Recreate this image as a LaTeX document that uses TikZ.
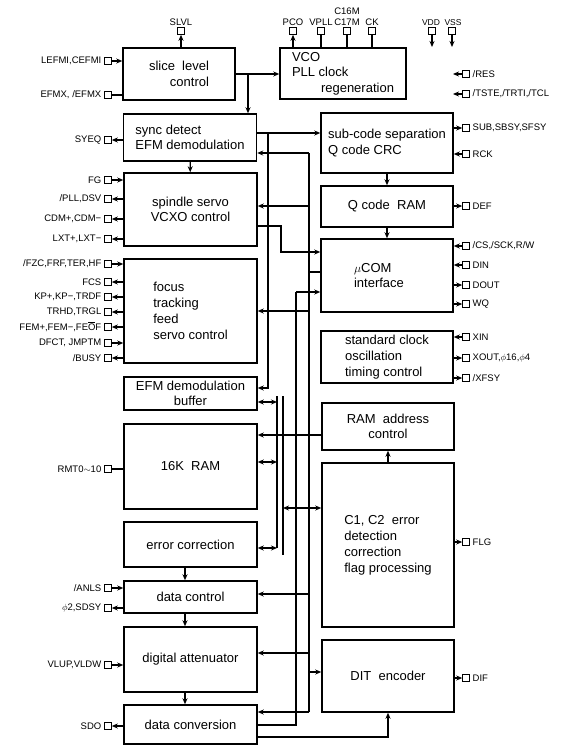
\documentclass[tikz,border=0pt]{standalone}
\usepackage{fontspec}
\setmainfont{Liberation Sans}
\usetikzlibrary{arrows.meta}
\begin{document}
\begin{tikzpicture}[x=1pt,y=-1pt,
  box/.style={draw, line width=1.5pt, inner sep=0pt, align=center, font=\fontsize{13}{15.5}\selectfont},
  pin/.style={draw, line width=1.1pt, minimum size=6.5pt, inner sep=0pt, fill=white},
  plab/.style={font=\fontsize{9.5}{10.5}\selectfont, inner sep=0pt},
  wire/.style={line width=1.2pt},
  >={Stealth[length=6pt,width=5pt]}
]
\useasboundingbox (0,0) rectangle (563,755);
\fill[white] (0,0) rectangle (563,755);

% ---------- macros for pins ----------
\newcommand\Lpin[3]{\node[pin] (#1) at (108,#2) {}; \node[plab, anchor=east] (#1-l) at (101.5,#2) {#3};}
\newcommand\Rpin[3]{\node[pin] (#1) at (466,#2) {}; \node[plab, anchor=west] (#1-l) at (472.5,#2) {#3};}
\newcommand\Tpin[3]{\node[pin] (#1) at (#2,31) {}; \node[plab, anchor=south, align=center] (#1-l) at (#2,25.5) {#3};}

% ---------- left column ----------
\node[box, minimum width=112pt, minimum height=52pt, align=right] (slice) at (179,74) {slice\ \ level\\control};
\node[box, minimum width=133pt, minimum height=47pt, align=left] (sync) at (190,137.5) {sync detect\\EFM demodulation};
\node[box, minimum width=133pt, minimum height=73pt] (spindle) at (190.5,209.5) {spindle servo\\VCXO control};
\node[box, minimum width=133pt, minimum height=104pt, align=left, font=\fontsize{13}{16}\selectfont] (focus) at (190.5,311) {focus\\tracking\\feed\\servo control};
\node[box, minimum width=133pt, minimum height=33pt, font=\fontsize{13}{15}\selectfont] (buffer) at (190.5,393.5) {EFM demodulation\\buffer};
\node[box, minimum width=133pt, minimum height=85pt] (ram) at (190.5,466.5) {16K\ \ RAM};
\node[box, minimum width=133pt, minimum height=45pt] (errc) at (190.5,544.5) {error correction};
\node[box, minimum width=133pt, minimum height=32pt] (dctl) at (190.5,597) {data control};
\node[box, minimum width=133pt, minimum height=65pt] (datt) at (190.5,659.5) {digital attenuator};
\node[box, minimum width=133pt, minimum height=39pt] (dconv) at (190.5,724.5) {data conversion};

% ---------- right column ----------
\node[box, minimum width=126pt, minimum height=51pt, align=left] (vco) at (343,73.5) {VCO\\PLL clock\\\hspace*{29pt}regeneration};
\node[box, minimum width=132pt, minimum height=60pt, align=left] (subc) at (387,143) {sub-code separation\\Q code CRC};
\node[box, minimum width=132pt, minimum height=41pt] (qram) at (387,206.5) {Q code\ \ RAM};
\node[box, minimum width=132pt, minimum height=73pt, align=left] (ucom) at (387,275.5) {$\mu$COM\\interface\hspace*{16pt}};
\node[box, minimum width=132pt, minimum height=52pt, align=left, font=\fontsize{13}{16}\selectfont] (sclk) at (387,357) {standard clock\\oscillation\\timing control};
\node[box, minimum width=132pt, minimum height=47pt] (raddr) at (388,426.5) {RAM\ \ address\\control};
\node[box, minimum width=132pt, minimum height=164pt, align=left, font=\fontsize{13}{16}\selectfont] (c1c2) at (388,545) {C1, C2\ \ error\\detection\\correction\\flag processing};
\node[box, minimum width=132pt, minimum height=72pt] (dit) at (388,676) {DIT\ \ encoder};

% ---------- top pins ----------
\Tpin{slvl}{181}{SLVL}
\Tpin{pco}{293}{PCO}
\Tpin{vpll}{321}{VPLL}
\Tpin{c16m}{347}{C16M\\C17M}
\Tpin{ck}{372}{CK}
\node[pin] (vdd) at (432,31) {};
\node[plab, anchor=south, font=\fontsize{8.5}{10}\selectfont] (vdd-l) at (431,25.5) {VDD};
\node[pin] (vss) at (452,31) {};
\node[plab, anchor=south, font=\fontsize{8.5}{10}\selectfont] (vss-l) at (453,25.5) {VSS};
\draw[wire,->] (slice.north -| slvl) -- (slvl);
\draw[wire,->] (vco.north -| pco) -- (pco);
\draw[wire] (vpll) -- (vco.north -| vpll);
\draw[wire] (c16m) -- (vco.north -| c16m);
\draw[wire] (ck) -- (vco.north -| ck);
\coordinate (vddE) at (432,47);
\coordinate (vssE) at (452,47);
\draw[wire,->] (vdd) -- (vddE);
\draw[wire,->] (vss) -- (vssE);

% ---------- left pins ----------
\Lpin{lefmi}{61}{LEFMI,CEFMI}
\Lpin{efmx}{95}{EFMX, /EFMX}
\Lpin{syeq}{140}{SYEQ}
\Lpin{fg}{180}{FG}
\Lpin{pll}{199}{/PLL,DSV}
\Lpin{cdm}{219}{CDM+,CDM−}
\Lpin{lxt}{239}{LXT+,LXT−}
\Lpin{fzc}{264}{/FZC,FRF,TER,HF}
\Lpin{fcs}{282}{FCS}
\Lpin{kp}{297}{KP+,KP−,TRDF}
\Lpin{trhd}{312}{TRHD,TRGL}
\Lpin{fem}{327}{FEM+,FEM−,FE$\overline{\hbox{O}}$F}
\Lpin{dfct}{343}{DFCT, JMPTM}
\Lpin{busy}{358}{/BUSY}
\Lpin{rmt}{469}{RMT0$\sim$10}
\Lpin{anls}{588}{/ANLS}
\Lpin{sdsy}{608}{$\phi$2,SDSY}
\Lpin{vlup}{665}{VLUP,VLDW}
\Lpin{sdo}{726}{SDO}

\draw[wire,->] (lefmi) -- (slice.west |- lefmi);
\draw[wire] (efmx) -- (slice.west |- efmx);
\draw[wire,->] (sync.west |- syeq) -- (syeq);
\draw[wire,->] (fg) -- (spindle.west |- fg);
\draw[wire,->] (spindle.west |- pll) -- (pll);
\draw[wire,->] (spindle.west |- cdm) -- (cdm);
\draw[wire,->] (spindle.west |- lxt) -- (lxt);
\draw[wire,->] (fzc) -- (focus.west |- fzc);
\draw[wire,->] (focus.west |- fcs) -- (fcs);
\draw[wire,->] (focus.west |- kp) -- (kp);
\draw[wire,->] (focus.west |- trhd) -- (trhd);
\draw[wire,->] (focus.west |- fem) -- (fem);
\draw[wire,->] (dfct) -- (focus.west |- dfct);
\draw[wire,->] (focus.west |- busy) -- (busy);
\draw[wire] (rmt) -- (ram.west |- rmt);
\draw[wire,->] (anls) -- (dctl.west |- anls);
\draw[wire,->] (dctl.west |- sdsy) -- (sdsy);
\draw[wire,->] (vlup) -- (datt.west |- vlup);
\draw[wire,->] (dconv.west |- sdo) -- (sdo);

% ---------- right pins ----------
\Rpin{res}{74}{/RES}
\Rpin{tste}{94}{/TSTE,/TRTI,/TCL}
\Rpin{sub}{128}{SUB,SBSY,SFSY}
\Rpin{rck}{154}{RCK}
\Rpin{def}{206}{DEF}
\Rpin{cs}{246}{/CS,/SCK,R/W}
\Rpin{din}{265}{DIN}
\Rpin{dout}{285}{DOUT}
\Rpin{wq}{304}{WQ}
\Rpin{xin}{337}{XIN}
\Rpin{xout}{358}{XOUT,$\phi$16,$\phi$4}
\Rpin{xfsy}{378}{/XFSY}
\Rpin{flg}{542}{FLG}
\Rpin{dif}{678}{DIF}

\coordinate (resE) at (453,74);
\coordinate (tsteE) at (453,94);
\draw[wire,->] (res) -- (resE);
\draw[wire,->] (tste) -- (tsteE);
\draw[wire,->] (subc.east |- sub) -- (sub);
\draw[wire,->] (rck) -- (subc.east |- rck);
\draw[wire,->] (qram.east |- def) -- (def);
\draw[wire,->] (cs) -- (ucom.east |- cs);
\draw[wire,->] (din) -- (ucom.east |- din);
\draw[wire,->] (ucom.east |- dout) -- (dout);
\draw[wire,->] (ucom.east |- wq) -- (wq);
\draw[wire,->] (xin) -- (sclk.east |- xin);
\draw[wire,->] (sclk.east |- xout) -- (xout);
\draw[wire,->] (sclk.east |- xfsy) -- (xfsy);
\draw[wire,->] (c1c2.east |- flg) -- (flg);
\draw[wire,->] (dit.east |- dif) -- (dif);

% ---------- internal connections ----------
\coordinate (j1) at (248,74);
\draw[wire,->] (slice.east |- j1) -- (vco.west |- j1);
\draw[wire,->] (j1) -- (sync.north -| j1);
\draw[wire,->] (sync) -- (spindle);

\coordinate (a1) at (268,133);
\coordinate (a2) at (268,388);
\draw[wire,->] (sync.east |- a1) -- (subc.west |- a1);
\draw[wire,->] (a1) -- (a2) -- (buffer.east |- a2);

\coordinate (s1) at (281,226);
\coordinate (s2) at (281,252);
\draw[wire,->] (spindle.east |- s1) -- (s1) -- (s2) -- (ucom.west |- s2);

% bus at x=309
\coordinate (c0) at (309,153);
\coordinate (c1) at (309,206);
\coordinate (c2) at (309,272);
\coordinate (c3) at (309,311);
\coordinate (c4) at (309,594);
\coordinate (c5) at (309,653);
\coordinate (c6) at (309,672);
\coordinate (c9) at (309,712);
\draw[wire] (c0) -- (c9);
\draw[wire,->] (c0) -- (sync.east |- c0);
\draw[wire,->] (c1) -- (spindle.east |- c1);
\draw[wire] (c2) -- (ucom.west |- c2);
\draw[wire,->] (c3) -- (focus.east |- c3);
\draw[wire,->] (c4) -- (dctl.east |- c4);
\draw[wire,->] (c5) -- (datt.east |- c5);
\draw[wire,->] (c6) -- (dit.west |- c6);
\draw[wire,->] (c9) -- (dconv.east |- c9);

% bus at x=296
\coordinate (d0) at (296,292);
\coordinate (d1) at (296,725);
\draw[wire,->] (d0) -- (ucom.west |- d0);
\draw[wire] (d0) -- (d1) -- (dconv.east |- d1);

% data bus
\coordinate (e0) at (277,396);
\coordinate (e2) at (277,402);
\coordinate (e3) at (277,462);
\coordinate (e1) at (277,548);
\draw[wire] (e0) -- (e1);
\draw[wire,<->] (buffer.east |- e2) -- (e2);
\draw[wire,<->] (ram.east |- e3) -- (e3);
\draw[wire,<->] (errc.east |- e1) -- (e1);
\coordinate (f0) at (283,396);
\coordinate (f2) at (283,508);
\coordinate (f1) at (283,555);
\draw[wire] (f0) -- (f1);
\draw[wire,<->] (f2) -- (c1c2.west |- f2);

\coordinate (r1) at (300,435);
\draw[wire,->] (raddr.west |- r1) -- (ram.east |- r1);

\draw[wire,->] (subc) -- (qram);
\draw[wire,->] (qram) -- (ucom);
\draw[wire,->] (c1c2) -- (raddr);

\coordinate (g) at (185,0);
\draw[wire,->] (errc.south -| g) -- (dctl.north -| g);
\draw[wire,->] (dctl.south -| g) -- (datt.north -| g);
\draw[wire,->] (datt.south -| g) -- (dconv.north -| g);

\coordinate (h1) at (388,737);
\draw[wire,->] (dconv.east |- h1) -- (h1) -- (dit.south -| h1);
\end{tikzpicture}
\end{document}
